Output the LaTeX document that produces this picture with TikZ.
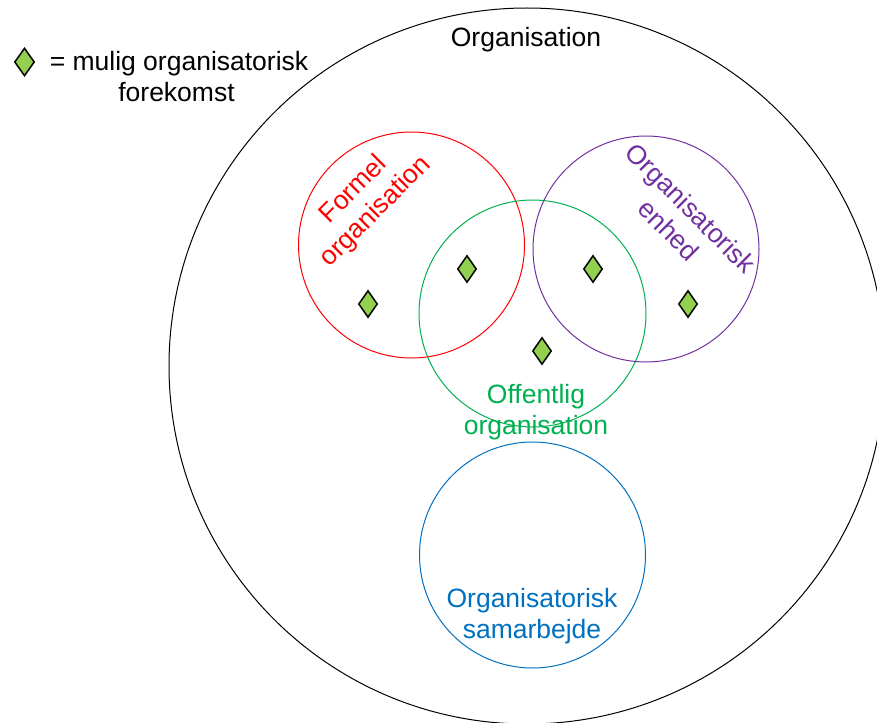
\documentclass[tikz,border=0pt]{standalone}
\usepackage{fontspec}
\setmainfont{Liberation Sans}
\usetikzlibrary{shapes.geometric}
\definecolor{dgreen}{HTML}{00B050}
\definecolor{dred}{HTML}{FF0000}
\definecolor{dpurple}{HTML}{7030A0}
\definecolor{dblue}{HTML}{0070C0}
\definecolor{dfill}{HTML}{92D050}
\tikzset{
  ring/.style={draw, circle, line width=1pt, inner sep=0pt},
  occ/.style={draw=black, fill=dfill, line width=1.5pt, diamond, minimum width=19pt, minimum height=27pt, inner sep=0pt},
  lbl/.style={font=\fontsize{26.5}{31}\selectfont, inner sep=0pt, align=center},
}
\begin{document}
\begin{tikzpicture}[x=1pt,y=-1pt]
\useasboundingbox (0,0) rectangle (877,722);
\node[ring, minimum size=716pt] (org) at (527,366) {};
\node[ring, draw=dred, minimum size=226pt] (formel) at (411.5,245) {};
\node[ring, draw=dgreen, minimum size=227pt] (off) at (532.5,313.5) {};
\node[ring, draw=dpurple, minimum size=226pt] (enhed) at (646,249) {};
\node[ring, draw=dblue, minimum size=226pt] (samarb) at (532.5,555) {};

\node[lbl, anchor=base] (torg) at (526,47) {Organisation};
\node[lbl, text=dred, rotate=45] (tformel) at (365,201) {Formel\\organisation};
\node[lbl, text=dpurple, rotate=-45] (tenhed) at (680,219) {Organisatorisk\\enhed};
\node[lbl, text=dgreen, anchor=base] (toff1) at (536,403) {Offentlig};
\node[lbl, text=dgreen, anchor=base] (toff2) at (536,434) {organisation};
\node[lbl, text=dblue, anchor=base] (tsam1) at (532,607) {Organisatorisk};
\node[lbl, text=dblue, anchor=base] (tsam2) at (532,638) {samarbejde};

\node[occ] (d1) at (368,304) {};
\node[occ] (d2) at (467,269) {};
\node[occ] (d3) at (593,269) {};
\node[occ] (d4) at (688,304) {};
\node[occ] (d5) at (542,351) {};

\node[occ, minimum width=20pt, minimum height=28pt] (dleg) at (24.5,62) {};
\node[lbl, anchor=base] (leg1) at (179,71) {= mulig organisatorisk};
\node[lbl, anchor=base] (leg2) at (176.5,102) {forekomst};
\end{tikzpicture}
\end{document}
